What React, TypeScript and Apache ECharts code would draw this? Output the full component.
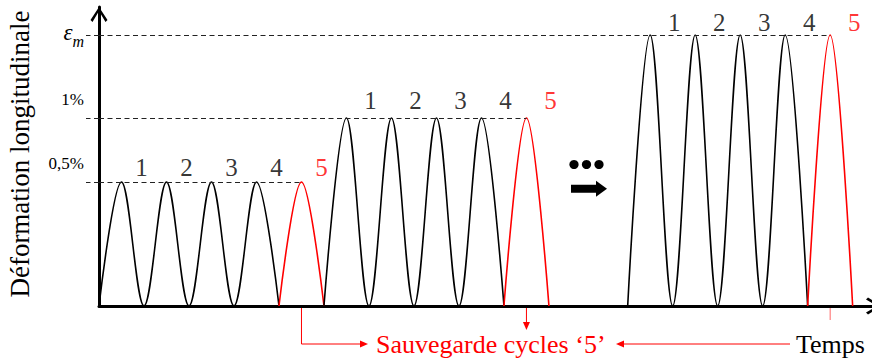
import React, { useEffect, useRef } from 'react';
import * as echarts from 'echarts';

const FONT = "'Liberation Serif', 'Times New Roman', serif";

// time in cycles, strain in schematic units (drawing is not to scale)
const g1Time = [0, 0.5, 1, 1.5, 2, 2.5, 3, 3.5, 4, 4.5, 5];
const g1Strain = [0, 124, 0, 124, 0, 124, 0, 124, 0, 124, 0];
const g2Time = [5, 5.5, 6, 6.5, 7, 7.5, 8, 8.5, 9, 9.5, 10];
const g2Strain = [0, 188, 0, 188, 0, 188, 0, 188, 0, 188, 0];
const g3Time = [11.75, 12.25, 12.75, 13.25, 13.75, 14.25, 14.75, 15.25, 15.75, 16.25, 16.75];
const g3Strain = [0, 271, 0, 271, 0, 271, 0, 271, 0, 271, 0];

const levelValues = [124, 188, 271];
const levelLabels = ['0,5%', '1%', 'εm'];
const cycleNames = ['1', '2', '3', '4', '5'];
const yAxisTitle = 'Déformation longitudinale';
const xAxisTitle = 'Temps';
const noteText = 'Sauvegarde cycles \u20185\u2019';

const CHEVRON = 'path://M8.5,0L17,13L15,15L8.5,4L2,15L0,13Z';
const RED = '#ff0000';

const groups = [
  { t: g1Time, s: g1Strain },
  { t: g2Time, s: g2Strain },
  { t: g3Time, s: g3Strain },
];
const labelOffsets = [
  [20, -15],
  [24, -18],
  [24, -13],
];

export default function App() {
  const ref = useRef<HTMLDivElement>(null);

  useEffect(() => {
    if (!ref.current) return;
    const chart = echarts.init(ref.current, null, { renderer: 'svg' });

    const series: any[] = [];
    groups.forEach((g, gi) => {
      const pts = g.t.map((t, i) => [t, g.s[i]]);
      series.push({
        type: 'line',
        data: pts.slice(0, 9),
        smooth: 0.36,
        smoothMonotone: 'x',
        showSymbol: false,
        silent: true,
        lineStyle: { color: '#000', width: 1.6 },
        markLine: {
          silent: true,
          symbol: 'none',
          label: { show: false },
          lineStyle: { color: '#222', width: 1, type: [5, 3.5] },
          data: [[{ coord: [0, g.s[9]] }, { coord: [g.t[9], g.s[9]] }]],
        },
        z: 3,
      });
      series.push({
        type: 'line',
        data: pts.slice(8, 11),
        smooth: 0.36,
        smoothMonotone: 'x',
        showSymbol: false,
        silent: true,
        lineStyle: { color: RED, width: 1.6 },
        z: 3,
      });
      const peaks: any[] = [];
      let k = 0;
      g.t.forEach((t, i) => {
        if (g.s[i] > 0) {
          peaks.push({
            name: cycleNames[k],
            value: [t, g.s[i]],
            label: { color: k === 4 ? RED : '#000', offset: labelOffsets[gi] },
          });
          k++;
        }
      });
      series.push({
        type: 'scatter',
        data: peaks,
        symbolSize: 0,
        silent: true,
        itemStyle: { color: 'transparent' },
        label: {
          show: true,
          position: 'inside',
          formatter: '{b}',
          fontFamily: FONT,
          fontSize: 25,
          align: 'center',
          verticalAlign: 'middle',
          textBorderWidth: 0,
          textBorderColor: 'transparent',
        },
      });
    });

    const axisLine = {
      show: true,
      symbol: ['none', CHEVRON],
      symbolSize: [17, 15],
      symbolOffset: [0, -7.5],
      lineStyle: { color: '#000', width: 3 },
    };

    chart.setOption({
      animation: false,
      grid: { left: 99, right: -9, top: 7, bottom: 55, containLabel: false, outerBoundsMode: 'none' },
      xAxis: {
        type: 'value',
        min: 0,
        max: 17.38,
        axisLine: { ...axisLine, onZero: false },
        axisTick: { show: false },
        axisLabel: { show: false },
        splitLine: { show: false },
      },
      yAxis: {
        type: 'value',
        min: 0,
        max: 299,
        name: yAxisTitle,
        nameLocation: 'middle',
        nameRotate: 90,
        nameGap: 66,
        nameTextStyle: { fontFamily: FONT, fontSize: 27, color: '#000', padding: [0, 0, 0, 5] },
        axisLine: { ...axisLine, onZero: false },
        axisTick: {
          show: true,
          customValues: levelValues,
          length: 13,
          lineStyle: { color: '#222', width: 1, type: [5, 3.5] },
        },
        axisLabel: {
          customValues: levelValues,
          margin: 15,
          color: '#000',
          fontFamily: FONT,
          fontSize: 17,
          formatter: (v: number) => {
            const i = levelValues.indexOf(v);
            const txt = levelLabels[i] ?? '';
            if (txt === 'εm') return '{e|ε}{m|m}';
            return '{p|' + txt + '}';
          },
          rich: {
            p: { fontFamily: FONT, fontSize: 17, color: '#000', padding: [0, 0, 38, 0] },
            e: { fontFamily: FONT, fontSize: 23, fontStyle: 'italic', color: '#000', padding: [0, 0, 6, 0] },
            m: { fontFamily: FONT, fontSize: 16, fontStyle: 'italic', color: '#000', verticalAlign: 'bottom' },
          },
        },
        splitLine: { show: false },
      },
      series,
    });

    const px = (t: number, s: number) => chart.convertToPixel({ gridIndex: 0 }, [t, s]) as number[];
    const [xr1, y0] = px(g1Time[9], 0);
    const [xr2] = px(g2Time[9], 0);
    const [xr3] = px(g3Time[9], 0);
    const yA = 344;

    chart.setOption({
      graphic: [
        // ellipsis + arrow between groups
        { type: 'circle', shape: { cx: 574, cy: 164.5, r: 4.6 }, style: { fill: '#000' } },
        { type: 'circle', shape: { cx: 586.5, cy: 164.5, r: 4.6 }, style: { fill: '#000' } },
        { type: 'circle', shape: { cx: 599, cy: 164.5, r: 4.6 }, style: { fill: '#000' } },
        {
          type: 'polygon',
          shape: {
            points: [
              [571, 184.7], [596, 184.7], [596, 180.7], [607, 188.7],
              [596, 196.7], [596, 192.7], [571, 192.7],
            ],
          },
          style: { fill: '#000' },
        },
        // annotation arrows
        {
          type: 'polyline',
          shape: { points: [[xr1, y0 + 2], [xr1, yA], [362, yA]] },
          style: { stroke: RED, lineWidth: 1, fill: null },
        },
        { type: 'polygon', shape: { points: [[368, yA], [360, yA - 3.5], [360, yA + 3.5]] }, style: { fill: RED } },
        {
          type: 'line',
          shape: { x1: xr2, y1: y0 + 2, x2: xr2, y2: 324 },
          style: { stroke: RED, lineWidth: 1 },
        },
        { type: 'polygon', shape: { points: [[xr2, 330], [xr2 - 3.5, 322], [xr2 + 3.5, 322]] }, style: { fill: RED } },
        {
          type: 'line',
          shape: { x1: 790, y1: yA, x2: 622, y2: yA },
          style: { stroke: RED, lineWidth: 1 },
        },
        { type: 'polygon', shape: { points: [[616, yA], [624, yA - 3.5], [624, yA + 3.5]] }, style: { fill: RED } },
        {
          type: 'line',
          shape: { x1: xr3, y1: y0 + 2, x2: xr3, y2: 320 },
          style: { stroke: RED, lineWidth: 1, opacity: 0.6 },
        },
        {
          type: 'text',
          x: 376,
          y: yA,
          style: { text: noteText, fill: RED, fontFamily: FONT, fontSize: 26, align: 'left', verticalAlign: 'middle' },
        },
        {
          type: 'text',
          x: 796,
          y: yA,
          style: { text: xAxisTitle, fill: '#000', fontFamily: FONT, fontSize: 26, align: 'left', verticalAlign: 'middle' },
        },
      ],
    });

    return () => chart.dispose();
  }, []);

  return (
    <div
      ref={ref}
      style={{ position: 'fixed', left: 0, top: 0, width: 872, height: 361, background: '#fff' }}
    />
  );
}
